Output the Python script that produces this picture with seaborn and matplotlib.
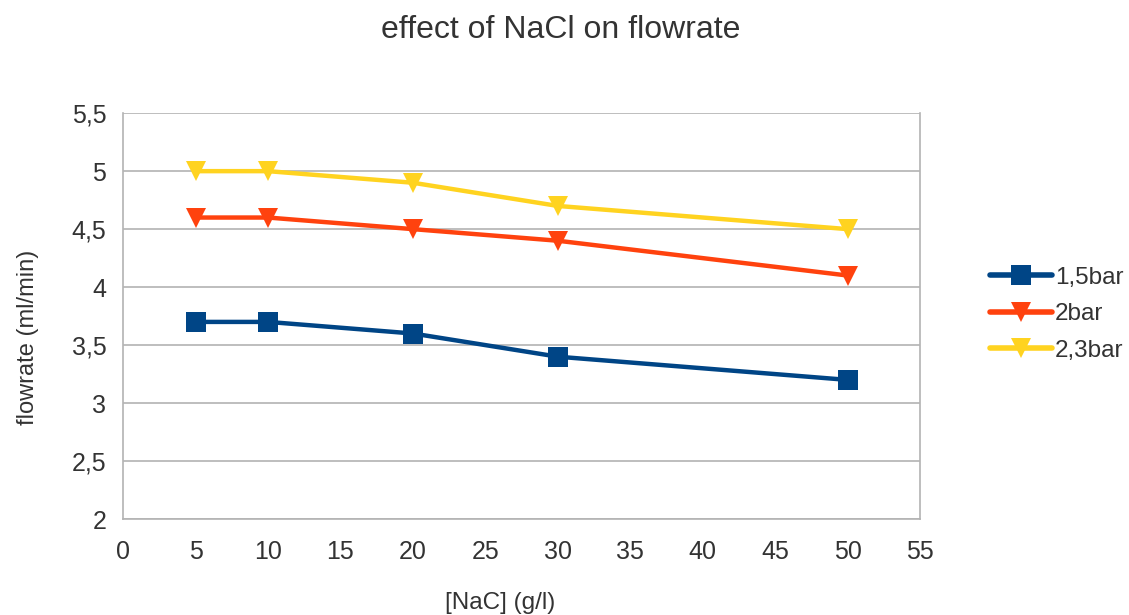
import matplotlib
matplotlib.use("Agg")
import matplotlib.pyplot as plt
import seaborn as sns
import pandas as pd

nacl = [5, 10, 20, 30, 50]
flow_15bar = [3.7, 3.7, 3.6, 3.4, 3.2]
flow_2bar = [4.6, 4.6, 4.5, 4.4, 4.1]
flow_23bar = [5.0, 5.0, 4.9, 4.7, 4.5]
series_names = ["1,5bar", "2bar", "2,3bar"]
y_ticks = [2, 2.5, 3, 3.5, 4, 4.5, 5, 5.5]
y_tick_labels = ["2", "2,5", "3", "3,5", "4", "4,5", "5", "5,5"]
x_ticks = [0, 5, 10, 15, 20, 25, 30, 35, 40, 45, 50, 55]

df = pd.DataFrame({
    "x": nacl * 3,
    "y": flow_15bar + flow_2bar + flow_23bar,
    "series": [series_names[0]] * 5 + [series_names[1]] * 5 + [series_names[2]] * 5,
})

sns.set_theme(style="white")
plt.rcParams["font.family"] = ["Liberation Sans", "DejaVu Sans"]

fig = plt.figure(figsize=(11.29, 6.15), dpi=100)
ax = fig.add_axes([0.109, 0.156, 0.706, 0.660])

palette = {"1,5bar": "#004586", "2bar": "#ff420e", "2,3bar": "#ffd320"}
markers = {"1,5bar": "s", "2bar": "v", "2,3bar": "v"}

sns.lineplot(data=df, x="x", y="y", hue="series", style="series",
             markers=markers, dashes=False, palette=palette,
             linewidth=3.2, markersize=15, markeredgewidth=0, ax=ax, legend=True)

ax.set_xlim(0, 55)
ax.set_ylim(2, 5.5)
ax.set_xticks(x_ticks)
ax.set_yticks(y_ticks)
ax.set_yticklabels(y_tick_labels)
ax.yaxis.grid(True, color="#b3b3b3", linewidth=1.2)
ax.set_axisbelow(True)

for side in ["left", "bottom", "right"]:
    ax.spines[side].set_color("#b3b3b3")
    ax.spines[side].set_linewidth(1.2)
ax.spines["top"].set_visible(False)

ax.tick_params(axis="both", which="both", direction="out", length=8,
               width=1.2, color="#b3b3b3", labelsize=18, labelcolor="#333333")
ax.tick_params(axis="x", pad=7)
ax.tick_params(axis="y", pad=4)

ax.set_xlabel("[NaC] (g/l)", fontsize=17.5, color="#333333")
ax.xaxis.set_label_coords(0.473, -0.18)
ax.set_ylabel("flowrate (ml/min)", fontsize=17, color="#333333")
ax.yaxis.set_label_coords(-0.105, 0.448)

fig.suptitle("effect of NaCl on flowrate", fontsize=23, color="#333333", y=0.975, x=0.497)

leg = ax.legend(loc="center left", bbox_to_anchor=(0.866, 0.489),
                bbox_transform=fig.transFigure, frameon=False, borderpad=0,
                fontsize=17.5, handlelength=2.55, handletextpad=0.12, labelspacing=0.6,
                labelcolor="#333333")
for line in leg.get_lines():
    line.set_linewidth(4)

fig.savefig("out.png", dpi=100)
